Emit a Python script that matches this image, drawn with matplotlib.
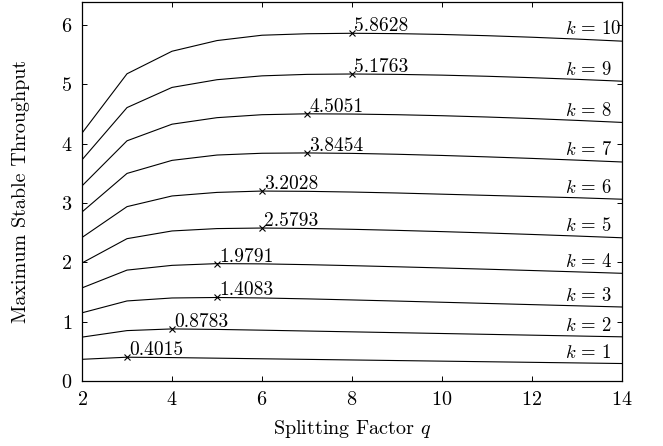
import matplotlib
matplotlib.use("Agg")
import matplotlib.pyplot as plt

plt.rcParams['font.family'] = 'serif'
plt.rcParams['font.serif'] = ['cmr10']
plt.rcParams['mathtext.fontset'] = 'cm'
plt.rcParams['axes.formatter.use_mathtext'] = True
plt.rcParams['axes.unicode_minus'] = False

q = [2, 3, 4, 5, 6, 7, 8, 9, 10, 11, 12, 13, 14]
k_values = [1, 2, 3, 4, 5, 6, 7, 8, 9, 10]

t_k1 = [0.366, 0.4015, 0.395, 0.385, 0.375, 0.365, 0.355, 0.345, 0.335, 0.325, 0.315, 0.305, 0.295]
t_k2 = [0.74, 0.85, 0.8783, 0.870, 0.857, 0.843, 0.829, 0.815, 0.801, 0.787, 0.773, 0.759, 0.745]
t_k3 = [1.15, 1.35, 1.40, 1.4083, 1.400, 1.385, 1.367, 1.348, 1.328, 1.308, 1.288, 1.268, 1.248]
t_k4 = [1.57, 1.87, 1.95, 1.9791, 1.975, 1.962, 1.945, 1.926, 1.906, 1.885, 1.863, 1.840, 1.816]
t_k5 = [1.99, 2.40, 2.53, 2.57, 2.5793, 2.572, 2.558, 2.540, 2.519, 2.496, 2.471, 2.444, 2.415]
t_k6 = [2.42, 2.94, 3.12, 3.18, 3.2028, 3.198, 3.186, 3.170, 3.150, 3.130, 3.110, 3.090, 3.065]
t_k7 = [2.85, 3.50, 3.72, 3.81, 3.84, 3.8454, 3.838, 3.823, 3.803, 3.779, 3.753, 3.724, 3.693]
t_k8 = [3.29, 4.05, 4.33, 4.44, 4.49, 4.5051, 4.501, 4.490, 4.473, 4.451, 4.425, 4.394, 4.360]
t_k9 = [3.73, 4.61, 4.95, 5.08, 5.145, 5.17, 5.1763, 5.170, 5.157, 5.138, 5.114, 5.086, 5.055]
t_k10 = [4.18, 5.18, 5.56, 5.74, 5.83, 5.855, 5.8628, 5.857, 5.843, 5.822, 5.796, 5.765, 5.730]
series = [t_k1, t_k2, t_k3, t_k4, t_k5, t_k6, t_k7, t_k8, t_k9, t_k10]

peak_q = [3, 4, 5, 5, 6, 6, 7, 7, 8, 8]
peak_val = [0.4015, 0.8783, 1.4083, 1.9791, 2.5793, 3.2028, 3.8454, 4.5051, 5.1763, 5.8628]
peak_text = ["0.4015", "0.8783", "1.4083", "1.9791", "2.5793", "3.2028", "3.8454", "4.5051", "5.1763", "5.8628"]

xticks = [2, 4, 6, 8, 10, 12, 14]
yticks = [0, 1, 2, 3, 4, 5, 6]

fig = plt.figure(figsize=(6.63, 4.46), dpi=100)
ax = fig.add_axes([0.1237, 0.1457, 0.8145, 0.8498])

for kv, vals in zip(k_values, series):
    ax.plot(q, vals, color='black', lw=0.8)
    ax.text(12.73, vals[11] + 0.08, r'$k\,=\,%d$' % kv, ha='left', va='baseline', fontsize=13.5)

ax.plot(peak_q, peak_val, linestyle='none', marker='x', color='black', markersize=4.5, mew=0.8)
for px, pv, pt in zip(peak_q, peak_val, peak_text):
    ax.annotate(pt, (px, pv), xytext=(1.5, 1.5), textcoords='offset points',
                ha='left', va='baseline', fontsize=14)

ax.set_xlim(2, 14)
ax.set_ylim(0, 6.39)
ax.set_xticks(xticks)
ax.set_yticks(yticks)
ax.tick_params(direction='in', top=True, right=True, length=3.6, width=0.7, labelsize=14.5, pad=7)
for s in ax.spines.values():
    s.set_linewidth(0.9)
ax.set_xlabel(r'Splitting Factor $q$', fontsize=14.5, labelpad=7)
ax.set_ylabel('Maximum Stable Throughput', fontsize=14.5, labelpad=22)

fig.savefig('out.png', dpi=100)
